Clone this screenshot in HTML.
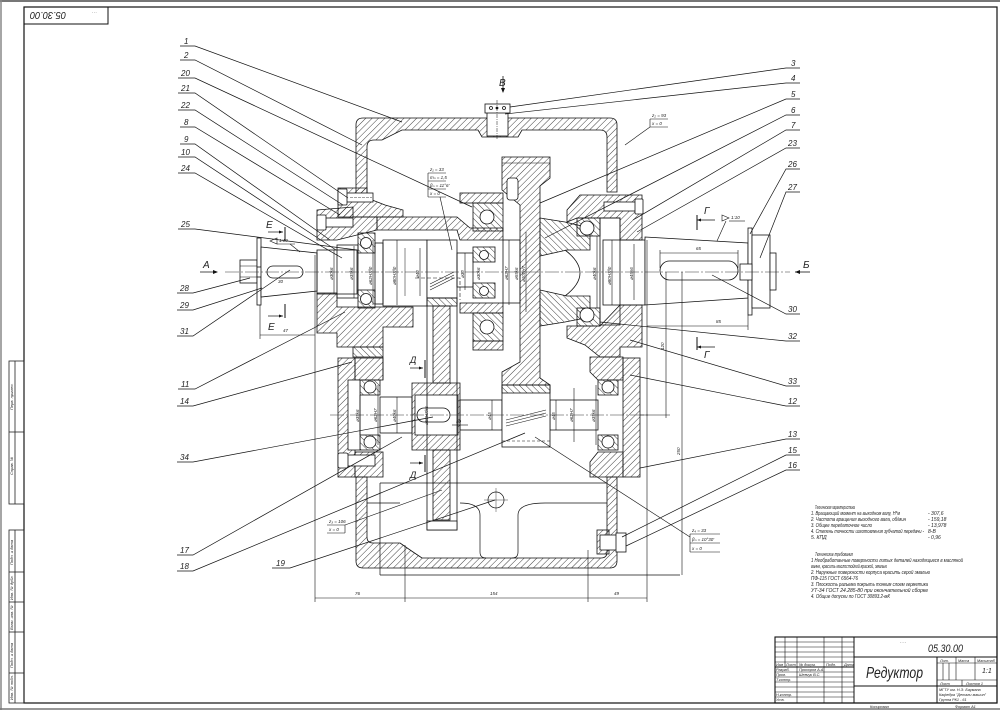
<!DOCTYPE html>
<html><head><meta charset="utf-8"><style>
html,body{margin:0;padding:0;background:#fff;}
svg{display:block;}
text{font-family:"Liberation Sans",sans-serif;font-style:italic;fill:#222;}
</style></head><body>
<svg width="1000" height="710" viewBox="0 0 1000 710" xmlns="http://www.w3.org/2000/svg">
<defs>
<pattern id="h" patternUnits="userSpaceOnUse" width="4.5" height="4.5" patternTransform="rotate(45)"><line x1="0" y1="0" x2="0" y2="4.5" stroke="#111" stroke-width="0.8"/></pattern>
<pattern id="g" patternUnits="userSpaceOnUse" width="4.5" height="4.5" patternTransform="rotate(-45)"><line x1="0" y1="0" x2="0" y2="4.5" stroke="#111" stroke-width="0.8"/></pattern>
</defs>
<rect width="1000" height="710" fill="#fff"/>
<!-- outer edges -->
<line x1="0" y1="1" x2="1000" y2="1" stroke="#777" stroke-width="2"/>
<line x1="1" y1="0" x2="1" y2="710" stroke="#888" stroke-width="1.5"/>
<line x1="0" y1="709" x2="1000" y2="709" stroke="#777" stroke-width="1.5"/>
<!-- frame -->
<rect x="24" y="7" width="973" height="696" fill="none" stroke="#111" stroke-width="1.2"/>
<rect x="24" y="7" width="84" height="17" fill="none" stroke="#111" stroke-width="1"/>
<text transform="rotate(180 48 16)" x="30" y="20" font-size="10" textLength="36" lengthAdjust="spacingAndGlyphs">05.30.00</text>
<text x="92" y="13" font-size="3" fill="#888">- - -</text>
<!-- left strip -->
<g stroke="#222" stroke-width="0.8" fill="none">
<rect x="9" y="361" width="15" height="143"/>
<line x1="15" y1="361" x2="15" y2="504"/>
<line x1="9" y1="432" x2="24" y2="432"/>
<rect x="9" y="530" width="15" height="173"/>
<line x1="15" y1="530" x2="15" y2="703"/>
<line x1="9" y1="572" x2="24" y2="572"/>
<line x1="9" y1="602" x2="24" y2="602"/>
<line x1="9" y1="632" x2="24" y2="632"/>
<line x1="9" y1="673" x2="24" y2="673"/>
</g>
<g font-size="4" fill="#667">
<text transform="rotate(-90 13 410)" x="13" y="410">Перв. примен.</text>
<text transform="rotate(-90 13 475)" x="13" y="475">Справ. №</text>
<text transform="rotate(-90 13 565)" x="13" y="565">Подп. и дата</text>
<text transform="rotate(-90 13 600)" x="13" y="600">Инв. № дубл.</text>
<text transform="rotate(-90 13 630)" x="13" y="630">Взам. инв. №</text>
<text transform="rotate(-90 13 668)" x="13" y="668">Подп. и дата</text>
<text transform="rotate(-90 13 700)" x="13" y="700">Инв. № подл.</text>
</g>

<!-- ============ MAIN DRAWING ============ -->
<g stroke="#111" stroke-width="0.8">
<!-- cover -->
<path d="M356,200 L356,125 Q356,118 363,118 L610,118 Q617,118 617,125 L617,192 L607,192 L607,137 Q607,130 600,130 L522,130 L518,137 L482,137 L478,130 L402,130 L382,140 L374,140 Q367,140 367,147 L367,200 Z" fill="url(#h)"/>
<!-- plug -->
<rect x="487" y="112" width="21" height="24" fill="#fff"/>
<rect x="485" y="104" width="25" height="9" fill="#fff"/>
<circle cx="491" cy="108" r="1.5" fill="none"/><circle cx="497" cy="108" r="1" fill="#111"/><circle cx="504" cy="108" r="1.5" fill="none"/>
<line x1="497" y1="100" x2="497" y2="140" stroke-dasharray="4 1 1 1" stroke-width="0.5"/>
<!-- upper left flange -->
<path d="M338,188 L367,188 L367,198 L385,205 L403,210 L403,217 L338,217 Z" fill="url(#h)"/>
<rect x="345" y="193" width="28" height="9" fill="#fff"/>
<rect x="338" y="189" width="9" height="16" fill="#fff" rx="1"/>
<line x1="350" y1="197.5" x2="372" y2="197.5" stroke-width="0.4" stroke-dasharray="3 1"/>
<!-- input cap / housing -->
<path d="M317,210 L353,207 L353,217 L377,217 L377,230 L337,240 L317,240 Z" fill="url(#h)"/>
<rect x="320" y="218" width="33" height="9" fill="#fff"/>
<rect x="317" y="215" width="9" height="15" fill="#fff" rx="1"/>
<!-- sleeve top band -->
<path d="M377,217 L457,217 L470,228 L503,228 L503,240 L460,240 L457,230 L377,230 Z" fill="url(#h)"/>
<!-- lower left input area -->
<path d="M317,293 L337,293 L337,307 L413,307 L413,327 L383,327 L383,347 L337,347 L337,333 L317,333 Z" fill="url(#h)"/>
<path d="M353,347 L383,347 L383,357 L353,357 Z" fill="url(#g)"/>
<!-- left input bearing -->
<rect x="358" y="233" width="17" height="20" fill="url(#g)"/>
<rect x="358" y="290" width="17" height="18" fill="url(#g)"/>
<circle cx="366" cy="243" r="5.5" fill="#fff"/>
<circle cx="366" cy="299" r="5.5" fill="#fff"/>
<!-- input shaft outside -->
<rect x="240" y="260" width="17" height="23" fill="#fff"/>
<line x1="240" y1="266" x2="257" y2="266" stroke-width="0.5"/>
<line x1="240" y1="277" x2="257" y2="277" stroke-width="0.5"/>
<rect x="257" y="238" width="4" height="67" fill="#fff"/>
<rect x="257" y="267" width="10" height="10" fill="#fff"/>
<path d="M261,247 L317,253 L317,291 L261,297 Z" fill="#fff"/>
<rect x="267" y="266" width="36" height="12" rx="6" fill="#fff"/>
<!-- input shaft inside -->
<rect x="317" y="250" width="40" height="44" fill="none"/>
<rect x="337" y="245" width="21" height="53" fill="none"/>
<rect x="375" y="243" width="8" height="61" fill="none"/>
<rect x="383" y="240" width="44" height="66" fill="none"/>
<line x1="405" y1="248" x2="405" y2="296" stroke-width="0.5"/>
<!-- input pinion -->
<rect x="427" y="240" width="30" height="58" fill="#fff"/>
<g stroke-width="0.6"><line x1="430" y1="284" x2="454" y2="272"/><line x1="430" y1="287" x2="454" y2="275"/><line x1="430" y1="290" x2="454" y2="278"/></g>
<rect x="457" y="253" width="16" height="34" fill="none"/>
<!-- center bearing group -->
<rect x="460" y="193" width="43" height="10" fill="url(#h)"/>
<rect x="473" y="203" width="30" height="28" fill="url(#g)"/>
<circle cx="487" cy="217" r="7" fill="#fff"/>
<rect x="473" y="247" width="22" height="15" fill="url(#g)"/>
<circle cx="484" cy="255" r="4.5" fill="#fff"/>
<rect x="473" y="283" width="22" height="15" fill="url(#g)"/>
<circle cx="484" cy="291" r="4.5" fill="#fff"/>
<rect x="460" y="303" width="43" height="10" fill="url(#h)"/>
<rect x="473" y="313" width="30" height="28" fill="url(#g)"/>
<circle cx="487" cy="327" r="7" fill="#fff"/>
<rect x="473" y="341" width="30" height="9" fill="url(#h)"/>
<!-- output gear -->
<path d="M502,157 L550,157 L550,178 L540,186 L540,378 L550,385 L550,390 L502,390 L502,372 L520,362 L520,205 L502,190 Z" fill="url(#h)"/>
<rect x="507" y="178" width="11" height="22" rx="3" fill="#fff"/>
<line x1="502" y1="163" x2="550" y2="163" stroke-width="0.5"/>
<!-- hub / cone -->
<path d="M540,218 L565,222 L590,228 L590,250 L567,250 L540,256 Z" fill="url(#g)"/>
<path d="M540,290 L567,296 L590,296 L590,317 L565,322 L540,326 Z" fill="url(#g)"/>
<path d="M565,250 Q595,273 565,296" fill="#fff"/>
<rect x="503" y="240" width="17" height="63" fill="none"/>
<!-- right bearing / cap -->
<path d="M567,210 L580,195 L642,195 L642,240 L620,240 L620,218 L577,218 L567,222 Z" fill="url(#h)"/>
<rect x="604" y="202" width="33" height="9" fill="#fff"/>
<rect x="635" y="199" width="8" height="15" fill="#fff" rx="1"/>
<rect x="577" y="218" width="23" height="18" fill="url(#g)"/>
<circle cx="587" cy="228" r="7" fill="#fff"/>
<rect x="577" y="308" width="23" height="18" fill="url(#g)"/>
<circle cx="587" cy="315" r="7" fill="#fff"/>
<rect x="600" y="218" width="20" height="107" fill="none"/>
<path d="M567,326 L600,326 L620,305 L642,305 L642,347 L620,347 L620,357 L600,357 L585,345 L567,338 Z" fill="url(#h)"/>
<!-- output shaft -->
<rect x="603" y="240" width="42" height="65" fill="none"/>
<path d="M645,237 L748,243 L748,298 L645,305 Z" fill="#fff"/>
<rect x="660" y="261" width="78" height="19" rx="9.5" fill="#fff"/>
<rect x="748" y="228" width="4" height="87" fill="#fff"/>
<rect x="752" y="235" width="18" height="73" fill="#fff"/>
<rect x="740" y="264" width="12" height="16" fill="#fff"/>
<rect x="770" y="253" width="6" height="37" fill="#fff"/>
<!-- lower left boss -->
<rect x="338" y="358" width="17" height="119" fill="url(#h)"/>
<rect x="355" y="358" width="28" height="22" fill="url(#h)"/>
<rect x="355" y="452" width="28" height="25" fill="url(#h)"/>
<rect x="360" y="380" width="20" height="15" fill="url(#g)"/>
<circle cx="370" cy="387" r="6" fill="#fff"/>
<rect x="360" y="435" width="20" height="15" fill="url(#g)"/>
<circle cx="370" cy="442" r="6" fill="#fff"/>
<rect x="348" y="380" width="12" height="70" fill="#fff"/>
<rect x="338" y="455" width="37" height="11" fill="#fff"/>
<rect x="338" y="453" width="10" height="15" rx="2" fill="#fff"/>
<!-- lower right boss -->
<rect x="623" y="358" width="17" height="119" fill="url(#h)"/>
<path d="M590,357 L623,357 L623,380 L598,380 L590,372 Z" fill="url(#h)"/>
<path d="M590,462 L598,452 L623,452 L623,477 L590,477 Z" fill="url(#h)"/>
<rect x="598" y="380" width="20" height="15" fill="url(#g)"/>
<circle cx="608" cy="387" r="6" fill="#fff"/>
<rect x="598" y="435" width="20" height="15" fill="url(#g)"/>
<circle cx="608" cy="442" r="6" fill="#fff"/>
<!-- lower shaft -->
<rect x="380" y="397" width="32" height="36" fill="none"/>
<path d="M412,383 L460,383 L460,450 L412,450 Z" fill="url(#h)"/>
<rect x="415" y="395" width="43" height="40" fill="#fff"/>
<rect x="417" y="408" width="33" height="14" rx="7" fill="#fff"/>
<rect x="460" y="400" width="42" height="30" fill="none"/>
<rect x="550" y="400" width="48" height="30" fill="none"/>
<!-- big lower gear -->
<rect x="427" y="298" width="30" height="232" fill="none"/>
<rect x="427" y="298" width="30" height="8" fill="url(#g)"/>
<rect x="433" y="306" width="17" height="77" fill="url(#h)"/>
<rect x="433" y="450" width="17" height="70" fill="url(#h)"/>
<rect x="427" y="521" width="30" height="9" fill="#fff"/>
<!-- lower pinion -->
<rect x="502" y="385" width="48" height="62" fill="#fff"/>
<rect x="502" y="385" width="48" height="8" fill="url(#g)"/>
<g stroke-width="0.6"><line x1="506" y1="420" x2="546" y2="410"/><line x1="506" y1="423" x2="546" y2="413"/><line x1="506" y1="426" x2="546" y2="416"/></g>
<line x1="502" y1="441" x2="550" y2="441" stroke-dasharray="3 2" stroke-width="0.5"/>
<!-- lower housing -->
<path d="M356,477 L356,561 Q356,568 363,568 L610,568 Q617,568 617,561 L617,477 L607,477 L607,552 Q607,558 601,558 L422,558 Q410,550 400,543 L373,543 Q367,543 367,537 L367,477 Z" fill="url(#h)"/>
<rect x="597" y="530" width="12" height="24" fill="url(#h)"/>
<rect x="600" y="535" width="20" height="15" fill="#fff"/>
<rect x="616" y="533" width="10" height="19" fill="#fff"/>
</g>

<!-- thin lines in housing -->
<g stroke="#111" stroke-width="0.7" fill="none">
<line x1="380" y1="483" x2="607" y2="483"/>
<line x1="380" y1="483" x2="380" y2="575"/>
<line x1="380" y1="575" x2="680" y2="575"/>
<path d="M460,503 Q480,503 480,515 L480,552 Q480,558 486,558"/>
<path d="M545,503 Q518,503 518,515 L518,552 Q518,558 512,558"/>
<line x1="545" y1="503" x2="607" y2="503"/>
<circle cx="496" cy="500" r="8"/>
<line x1="484" y1="500" x2="508" y2="500" stroke-width="0.4"/>
<line x1="496" y1="488" x2="496" y2="512" stroke-width="0.4"/>
<line x1="367" y1="503" x2="400" y2="503"/>
<path d="M383,357 L383,380"/>
<path d="M415,278 L460,278 L460,300" stroke-dasharray="4 2" stroke-width="0.6"/>
</g>

<!-- center lines -->
<g stroke="#333" stroke-width="0.5" stroke-dasharray="14 2 2 2" fill="none">
<line x1="225" y1="272" x2="790" y2="272"/>
<line x1="330" y1="415" x2="650" y2="415"/>
</g>

<!-- dimension lines -->
<g stroke="#111" stroke-width="0.6" fill="none">
<line x1="315" y1="255" x2="315" y2="602"/>
<line x1="405" y1="545" x2="405" y2="602"/>
<line x1="588" y1="550" x2="588" y2="602"/>
<line x1="647" y1="240" x2="647" y2="602"/>
<line x1="315" y1="598" x2="647" y2="598"/>
<line x1="260" y1="305" x2="260" y2="339"/>
<line x1="260" y1="335" x2="315" y2="335"/>
<line x1="666" y1="272" x2="666" y2="418"/>
<line x1="682" y1="272" x2="682" y2="575"/>
<line x1="640" y1="415" x2="670" y2="415"/>
<line x1="660" y1="253" x2="738" y2="253"/>
<line x1="660" y1="250" x2="660" y2="268"/>
<line x1="738" y1="250" x2="738" y2="268"/>
<line x1="647" y1="326" x2="748" y2="326"/>
<line x1="748" y1="315" x2="748" y2="330"/>
<line x1="334" y1="250" x2="334" y2="294"/>
<line x1="354" y1="246" x2="354" y2="298"/>
<line x1="373" y1="240" x2="373" y2="305"/>
<line x1="397" y1="240" x2="397" y2="305"/>
<line x1="420" y1="248" x2="420" y2="296"/>
<line x1="465" y1="253" x2="465" y2="290"/>
<line x1="509" y1="240" x2="509" y2="305"/>
<line x1="526" y1="232" x2="526" y2="312"/>
<line x1="597" y1="236" x2="597" y2="308"/>
<line x1="612" y1="240" x2="612" y2="305"/>
<line x1="634" y1="244" x2="634" y2="300"/>
<line x1="360" y1="395" x2="360" y2="435"/>
<line x1="378" y1="385" x2="378" y2="445"/>
<line x1="397" y1="397" x2="397" y2="433"/>
<line x1="492" y1="400" x2="492" y2="430"/>
<line x1="556" y1="400" x2="556" y2="430"/>
<line x1="574" y1="388" x2="574" y2="442"/>
<line x1="596" y1="385" x2="596" y2="445"/>
<line x1="452" y1="425" x2="468" y2="425"/>
</g>
<g font-size="4.5">
<text transform="rotate(-90 333 280)" x="333" y="280">⌀30k6</text>
<text transform="rotate(-90 353 280)" x="353" y="280">⌀35k6</text>
<text transform="rotate(-90 372 285)" x="372" y="285">⌀62H7/l0</text>
<text transform="rotate(-90 396 285)" x="396" y="285">⌀80H7/l0</text>
<text transform="rotate(-90 419 278)" x="419" y="278">⌀40</text>
<text transform="rotate(-90 464 278)" x="464" y="278">⌀30</text>
<text transform="rotate(-90 480 280)" x="480" y="280">⌀30k6</text>
<text transform="rotate(-90 508 280)" x="508" y="280">⌀62H7</text>
<text transform="rotate(-90 518 280)" x="518" y="280">⌀55k6</text>
<text transform="rotate(-90 525 282)" x="525" y="282">⌀100H7</text>
<text transform="rotate(-90 596 280)" x="596" y="280">⌀40k6</text>
<text transform="rotate(-90 611 285)" x="611" y="285">⌀80H7/l0</text>
<text transform="rotate(-90 633 280)" x="633" y="280">⌀45n6</text>
<text transform="rotate(-90 359 422)" x="359" y="422">⌀35k6</text>
<text transform="rotate(-90 377 422)" x="377" y="422">⌀62H7</text>
<text transform="rotate(-90 396 422)" x="396" y="422">⌀40k6</text>
<text transform="rotate(-90 428 425)" x="428" y="425">⌀50H7/r6</text>
<text transform="rotate(-90 491 420)" x="491" y="420">⌀45</text>
<text transform="rotate(-90 555 420)" x="555" y="420">⌀45</text>
<text transform="rotate(-90 573 422)" x="573" y="422">⌀62H7</text>
<text transform="rotate(-90 595 422)" x="595" y="422">⌀35k6</text>
<text x="456" y="423">40</text>
<text transform="rotate(-90 664 350)" x="664" y="350">120</text>
<text transform="rotate(-90 680 455)" x="680" y="455">250</text>
<text x="696" y="250">65</text>
<text x="716" y="323">85</text>
<text x="283" y="332">47</text>
<text x="278" y="283">30</text>
<text x="355" y="595">76</text>
<text x="490" y="595">154</text>
<text x="614" y="595">49</text>
</g>

<!-- section markers -->
<g stroke="#111" stroke-width="1" fill="none">
<line x1="285" y1="227" x2="285" y2="240"/>
<line x1="268" y1="232" x2="283" y2="232" stroke-width="0.7"/>
<line x1="285" y1="304" x2="285" y2="318"/>
<line x1="268" y1="316" x2="283" y2="316" stroke-width="0.7"/>
<line x1="200" y1="272" x2="217" y2="272" stroke-width="0.8"/>
<line x1="697" y1="215" x2="697" y2="230"/>
<line x1="697" y1="220" x2="715" y2="220" stroke-width="0.7"/>
<line x1="697" y1="337" x2="697" y2="350"/>
<line x1="697" y1="347" x2="715" y2="347" stroke-width="0.7"/>
<line x1="795" y1="272" x2="810" y2="272" stroke-width="0.8"/>
<line x1="503" y1="76" x2="503" y2="92" stroke-width="0.8"/>
<line x1="425" y1="360" x2="425" y2="378"/>
<line x1="410" y1="368" x2="423" y2="368" stroke-width="0.7"/>
<line x1="425" y1="455" x2="425" y2="472"/>
<line x1="410" y1="463" x2="423" y2="463" stroke-width="0.7"/>
</g>
<g fill="#111">
<polygon points="283,232 279,230.5 279,233.5"/>
<polygon points="283,316 279,314.5 279,317.5"/>
<polygon points="218,272 213,270 213,274"/>
<polygon points="697,220 701,218.5 701,221.5"/>
<polygon points="697,347 701,345.5 701,348.5"/>
<polygon points="795,272 800,270 800,274"/>
<polygon points="503,93 501,88 505,88"/>
<polygon points="423,368 419,366.5 419,369.5"/>
<polygon points="423,463 419,461.5 419,464.5"/>
</g>
<g font-size="10" font-style="normal">
<text x="266" y="228" fill="#c06020">E</text>
<text x="268" y="330" fill="#c06020">E</text>
<text x="203" y="268">A</text>
<text x="704" y="214">Г</text>
<text x="704" y="358">Г</text>
<text x="803" y="268">Б</text>
<text x="499" y="86">В</text>
<text x="410" y="363" font-size="9">Д</text>
<text x="410" y="478" font-size="9">Д</text>
</g>
<!-- taper marks -->
<g stroke="#111" stroke-width="0.6" fill="none">
<polygon points="722,215 729,218 722,221"/>
<line x1="729" y1="221" x2="745" y2="221"/>
<line x1="726" y1="221" x2="717" y2="241"/>
<polygon points="270,241 277,238 277,244"/>
<line x1="277" y1="244" x2="295" y2="244"/>
<line x1="290" y1="244" x2="300" y2="252"/>
</g>
<text x="731" y="219" font-size="4.5">1:10</text>
<text x="279" y="242" font-size="4.5">1:10</text>

<!-- gear parameter boxes -->
<g stroke="#111" stroke-width="0.6" fill="none">
<line x1="428" y1="173" x2="446" y2="173"/>
<line x1="428" y1="181" x2="446" y2="181"/>
<line x1="428" y1="189" x2="446" y2="189"/>
<line x1="428" y1="197" x2="446" y2="197"/>
<line x1="428" y1="173" x2="428" y2="197"/>
<line x1="440" y1="197" x2="452" y2="250"/>
<line x1="650" y1="119" x2="668" y2="119"/>
<line x1="650" y1="127" x2="668" y2="127"/>
<line x1="650" y1="119" x2="650" y2="127"/>
<line x1="650" y1="127" x2="625" y2="145"/>
<line x1="327" y1="525" x2="345" y2="525"/>
<line x1="327" y1="533" x2="345" y2="533"/>
<line x1="345" y1="525" x2="345" y2="533"/>
<line x1="345" y1="525" x2="442" y2="490"/>
<line x1="690" y1="534" x2="720" y2="534"/>
<line x1="690" y1="543" x2="720" y2="543"/>
<line x1="690" y1="552" x2="720" y2="552"/>
<line x1="690" y1="534" x2="690" y2="552"/>
<line x1="535" y1="437" x2="690" y2="537"/>
</g>
<g font-size="4.5">
<text x="430" y="171">z₁ = 33</text>
<text x="430" y="179">mₙ = 1,5</text>
<text x="430" y="187">βₙ = 11°6'</text>
<text x="430" y="195">x = 0</text>
<text x="652" y="117">z₂ = 93</text>
<text x="652" y="125">x = 0</text>
<text x="329" y="523">z₃ = 106</text>
<text x="329" y="531">x = 0</text>
<text x="692" y="532">z₄ = 33</text>
<text x="692" y="541">βₙ = 10°30'</text>
<text x="692" y="550">x = 0</text>
</g>

<!-- leader lines -->
<g stroke="#111" stroke-width="0.7" fill="none">
<path d="M180,46 L195,46 L402,122"/>
<path d="M180,60 L195,60 L362,145"/>
<path d="M178,78 L195,78 L472,207"/>
<path d="M178,93 L195,93 L348,198"/>
<path d="M178,110 L195,110 L343,205"/>
<path d="M180,127 L195,127 L340,215"/>
<path d="M180,144 L195,144 L330,240"/>
<path d="M178,157 L195,157 L336,250"/>
<path d="M178,173 L195,173 L342,258"/>
<path d="M178,229 L195,229 L357,250"/>
<path d="M177,293 L193,293 L250,278"/>
<path d="M177,310 L193,310 L262,288"/>
<path d="M177,336 L193,336 L290,270"/>
<path d="M178,389 L195,389 L345,312"/>
<path d="M177,406 L193,406 L352,362"/>
<path d="M177,462 L193,462 L433,417"/>
<path d="M177,555 L193,555 L402,437"/>
<path d="M177,571 L193,571 L525,433"/>
<path d="M272,568 L290,568 L495,500"/>
<path d="M800,68 L786,68 L510,107"/>
<path d="M800,83 L786,83 L505,114"/>
<path d="M800,99 L786,99 L540,203"/>
<path d="M800,115 L786,115 L545,238"/>
<path d="M800,130 L786,130 L633,220"/>
<path d="M800,148 L786,148 L637,232"/>
<path d="M800,169 L786,169 L750,234"/>
<path d="M800,192 L786,192 L760,258"/>
<path d="M800,314 L786,314 L712,275"/>
<path d="M800,341 L786,341 L600,322"/>
<path d="M800,386 L786,386 L630,340"/>
<path d="M800,406 L786,406 L630,375"/>
<path d="M800,439 L786,439 L640,468"/>
<path d="M800,455 L786,455 L622,537"/>
<path d="M800,470 L786,470 L626,546"/>
</g>
<g font-size="8">
<text x="184" y="44">1</text>
<text x="184" y="58">2</text>
<text x="181" y="76">20</text>
<text x="181" y="91">21</text>
<text x="181" y="108">22</text>
<text x="184" y="125">8</text>
<text x="184" y="142">9</text>
<text x="181" y="155">10</text>
<text x="181" y="171">24</text>
<text x="181" y="227">25</text>
<text x="180" y="291">28</text>
<text x="180" y="308">29</text>
<text x="180" y="334">31</text>
<text x="181" y="387">11</text>
<text x="180" y="404">14</text>
<text x="180" y="460">34</text>
<text x="180" y="553">17</text>
<text x="180" y="569">18</text>
<text x="276" y="566">19</text>
<text x="791" y="66">3</text>
<text x="791" y="81">4</text>
<text x="791" y="97">5</text>
<text x="791" y="113">6</text>
<text x="791" y="128">7</text>
<text x="788" y="146">23</text>
<text x="788" y="167">26</text>
<text x="788" y="190">27</text>
<text x="788" y="312">30</text>
<text x="788" y="339">32</text>
<text x="788" y="384">33</text>
<text x="788" y="404">12</text>
<text x="788" y="437">13</text>
<text x="788" y="453">15</text>
<text x="788" y="468">16</text>
</g>

<!-- notes -->
<g font-size="5" fill="#444">
<text x="815" y="509" textLength="40" lengthAdjust="spacingAndGlyphs">Техническая характеристика</text>
<text x="811" y="515" textLength="89" lengthAdjust="spacingAndGlyphs">1. Вращающий момент на выходном валу, Н*м</text><text x="928" y="515">- 307,6</text>
<text x="811" y="521" textLength="95" lengthAdjust="spacingAndGlyphs">2. Частота вращения выходного вала, об/мин</text><text x="928" y="521">- 159,18</text>
<text x="811" y="527" textLength="61" lengthAdjust="spacingAndGlyphs">3. Общее передаточное число</text><text x="928" y="527">- 13,978</text>
<text x="811" y="533" textLength="113" lengthAdjust="spacingAndGlyphs">4. Степень точности изготовления зубчатой передачи -</text><text x="928" y="533">8-В</text>
<text x="811" y="539">5. КПД</text><text x="928" y="539">- 0,96</text>
<text x="815" y="556" textLength="38" lengthAdjust="spacingAndGlyphs">Технические требования</text>
<text x="811" y="562" textLength="152" lengthAdjust="spacingAndGlyphs">1 Необработанные поверхности литых деталей находящиеся в масляной</text>
<text x="811" y="568" textLength="76" lengthAdjust="spacingAndGlyphs">ванне, красить маслостойкой краской, эмалью</text>
<text x="811" y="574" textLength="119" lengthAdjust="spacingAndGlyphs">2. Наружные поверхности корпуса красить серой эмалью</text>
<text x="811" y="580" textLength="47" lengthAdjust="spacingAndGlyphs">ПФ-115 ГОСТ 6564-76</text>
<text x="811" y="586" textLength="117" lengthAdjust="spacingAndGlyphs">3. Плоскость разъема покрыть тонким слоем герметика</text>
<text x="811" y="592" textLength="117" lengthAdjust="spacingAndGlyphs">УТ-34 ГОСТ 24.285-80 при окончательной сборке</text>
<text x="811" y="598" textLength="79" lengthAdjust="spacingAndGlyphs">4. Общие допуски по ГОСТ 30893.2-мК</text>
</g>

<!-- title block -->
<g stroke="#111" stroke-width="0.6" fill="none">
<rect x="775" y="637" width="222" height="66" stroke-width="1.1"/>
<line x1="854" y1="637" x2="854" y2="703" stroke-width="1"/>
<line x1="785" y1="637" x2="785" y2="667"/>
<line x1="797" y1="637" x2="797" y2="703"/>
<line x1="824" y1="637" x2="824" y2="703"/>
<line x1="842" y1="637" x2="842" y2="703"/>
<line x1="775" y1="642" x2="854" y2="642"/>
<line x1="775" y1="647" x2="854" y2="647"/>
<line x1="775" y1="652" x2="854" y2="652"/>
<line x1="775" y1="657" x2="854" y2="657"/>
<line x1="775" y1="662" x2="854" y2="662"/>
<line x1="775" y1="667" x2="854" y2="667" stroke-width="1"/>
<line x1="775" y1="672" x2="854" y2="672"/>
<line x1="775" y1="677" x2="854" y2="677"/>
<line x1="775" y1="682" x2="854" y2="682"/>
<line x1="775" y1="687" x2="854" y2="687"/>
<line x1="775" y1="692" x2="854" y2="692"/>
<line x1="775" y1="697" x2="854" y2="697"/>
<line x1="854" y1="657" x2="997" y2="657" stroke-width="1"/>
<line x1="854" y1="686" x2="997" y2="686" stroke-width="1"/>
<line x1="937" y1="657" x2="937" y2="703" stroke-width="1"/>
<line x1="937" y1="663" x2="997" y2="663"/>
<line x1="937" y1="680" x2="997" y2="680"/>
<line x1="943" y1="663" x2="943" y2="680"/>
<line x1="949" y1="663" x2="949" y2="680"/>
<line x1="956" y1="657" x2="956" y2="680"/>
<line x1="975" y1="657" x2="975" y2="680"/>
<line x1="962" y1="680" x2="962" y2="686"/>
</g>
<g font-size="3.8" fill="#333">
<text x="776" y="666">Изм</text><text x="786" y="666">Лист</text><text x="799" y="666">№ докум.</text><text x="826" y="666">Подп.</text><text x="844" y="666">Дата</text>
<text x="776" y="671">Разраб.</text><text x="799" y="671">Прохоров А.А.</text>
<text x="776" y="676">Пров.</text><text x="799" y="676">Шевчук В.С.</text>
<text x="776" y="681">Т.контр.</text>
<text x="776" y="696">Н.контр.</text>
<text x="776" y="701">Утв.</text>
<text x="940" y="662">Лит.</text><text x="958" y="662">Масса</text><text x="977" y="662">Масштаб</text>
<text x="940" y="685">Лист</text><text x="966" y="685">Листов 1</text>
<text x="939" y="691">МГТУ им. Н.Э. Баумана</text>
<text x="939" y="696">Кафедра "Детали машин"</text>
<text x="939" y="701">Группа РК1 - 61</text>
<text x="900" y="643" fill="#999">- - -</text>
<text x="870" y="708">Копировал</text>
<text x="955" y="708">Формат  A1</text>
</g>
<text x="928" y="652" font-size="11" textLength="35" lengthAdjust="spacingAndGlyphs">05.30.00</text>
<text x="866" y="678" font-size="16" textLength="57" lengthAdjust="spacingAndGlyphs">Редуктор</text>
<text x="982" y="673" font-size="7">1:1</text>
</svg>
</body></html>
